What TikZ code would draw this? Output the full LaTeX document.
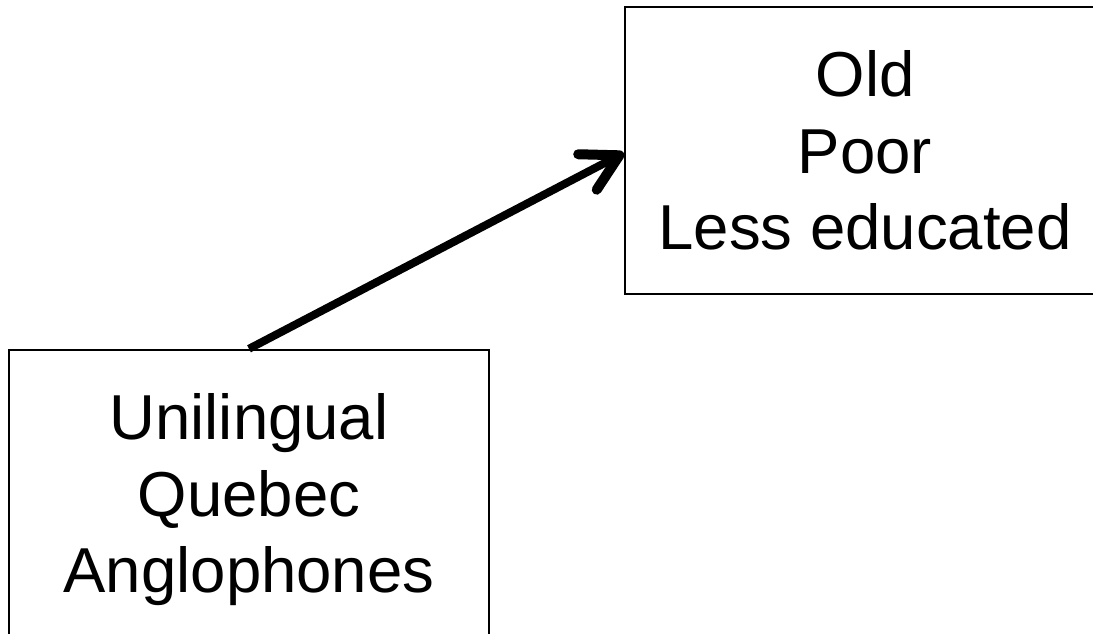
\documentclass[tikz,border=0pt]{standalone}
\usepackage{fontspec}
\setmainfont{Liberation Sans}
\usetikzlibrary{arrows.meta}
\begin{document}
\begin{tikzpicture}[x=1pt,y=1pt,
  box/.style={draw=black, line width=2.4pt, fill=white, inner sep=0pt,
    minimum width=480pt, align=center,
    font=\fontsize{63.5}{76.5}\selectfont},
  link/.style={line width=8pt,
    -{Straight Barb[length=36pt, width=40pt, line width=10pt, round]}}]
  \useasboundingbox (0,0) rectangle (1093,634);
  \clip (0,0) rectangle (1093,634);
  \fill[white] (0,0) rectangle (1093,634);
  % the two boxes (both run past the frame)
  \node[box, minimum height=300pt] (lbox) at (249,134)
    {Unilingual\\Quebec\\Anglophones};
  \node[box, minimum height=287pt] (rbox) at (865,483.5)
    {Old\\Poor\\Less educated};
  % connector from the lower box to the upper box
  \draw[link] (lbox.north) -- ([yshift=-2.5pt]rbox.west);
\end{tikzpicture}
\end{document}
